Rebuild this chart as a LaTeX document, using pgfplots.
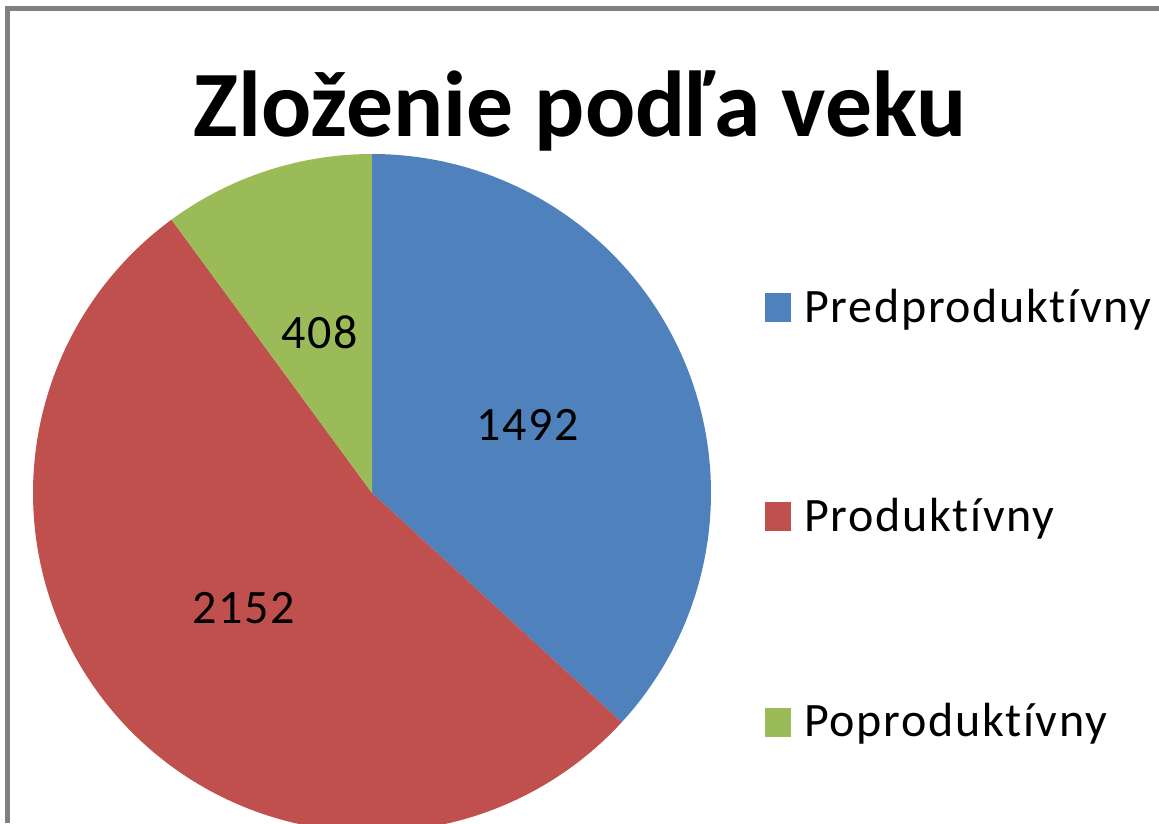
\documentclass[border=0pt]{standalone}
\usepackage{pgfplots}
\pgfplotsset{compat=1.18}
\usepackage{fontspec}
\setmainfont{Carlito}
\newfontfamily\lsfont{Carlito}[LetterSpace=3.5, Ligatures={NoCommon, NoContextual}]
\definecolor{cblue}{HTML}{4F81BD}
\definecolor{cred}{HTML}{C0504D}
\definecolor{cgreen}{HTML}{9BBB59}
\definecolor{frame}{HTML}{808080}
% values
\def\vA{1492}\def\vB{2152}\def\vC{408}
\pgfmathsetmacro{\tot}{\vA+\vB+\vC}
\pgfmathsetmacro{\aA}{90}
\pgfmathsetmacro{\aB}{\aA-\vA/\tot*360}
\pgfmathsetmacro{\aC}{\aB-\vB/\tot*360}
\pgfmathsetmacro{\aD}{\aC-\vC/\tot*360}
\pgfmathsetmacro{\mA}{(\aA+\aB)/2}
\pgfmathsetmacro{\mB}{(\aB+\aC)/2}
\pgfmathsetmacro{\mC}{(\aC+\aD)/2}
\def\cx{372}\def\cy{330}\def\R{339}
\begin{document}
\begin{tikzpicture}
\begin{axis}[
  width=579.5pt, height=411.5pt, scale only axis,
  xmin=0, xmax=1159, ymin=0, ymax=823,
  hide axis, clip=true,
]
\addplot[fill=cblue, draw=none, domain=\aB:\aA, samples=120] ({\cx+\R*cos(x)}, {\cy+\R*sin(x)}) -- (\cx,\cy) -- cycle;
\addplot[fill=cred, draw=none, domain=\aC:\aB, samples=160] ({\cx+\R*cos(x)}, {\cy+\R*sin(x)}) -- (\cx,\cy) -- cycle;
\addplot[fill=cgreen, draw=none, domain=\aD:\aC, samples=60] ({\cx+\R*cos(x)}, {\cy+\R*sin(x)}) -- (\cx,\cy) -- cycle;
% data labels
\node[font=\lsfont\fontsize{24}{28}\selectfont, inner sep=0pt] at ({\cx+0.5*\R*cos(\mA)},{\cy+0.5*\R*sin(\mA)}) {1492};
\node[font=\lsfont\fontsize{24}{28}\selectfont, inner sep=0pt] at ({\cx+0.51*\R*cos(\mB)},{\cy+0.51*\R*sin(\mB)}) {2152};
\node[font=\lsfont\fontsize{24}{28}\selectfont, inner sep=0pt] at ({\cx+0.5*\R*cos(\mC)},{\cy+0.5*\R*sin(\mC)}) {408};
% title
\node[font=\bfseries\fontsize{46.8}{50}\selectfont, anchor=base, inner sep=0pt] at (580,686) {Zloženie podľa veku};
% legend
\fill[cblue] (765,501) rectangle (791,530);
\node[font=\lsfont\fontsize{24}{28}\selectfont, anchor=base west, inner sep=0pt] at (804,500) {Predproduktívny};
\fill[cred] (765,292) rectangle (791,321);
\node[font=\lsfont\fontsize{24}{28}\selectfont, anchor=base west, inner sep=0pt] at (804,291) {Produktívny};
\fill[cgreen] (765,86) rectangle (791,115);
\node[font=\lsfont\fontsize{24}{28}\selectfont, anchor=base west, inner sep=0pt] at (804,86) {Poproduktívny};
% frame of the screenshot
\draw[frame, line width=2.5pt] (7,0) -- (7,814) -- (1159,814);
\end{axis}
\pgfresetboundingbox
\path (current axis.south west) rectangle (current axis.north east);
\end{tikzpicture}
\end{document}
